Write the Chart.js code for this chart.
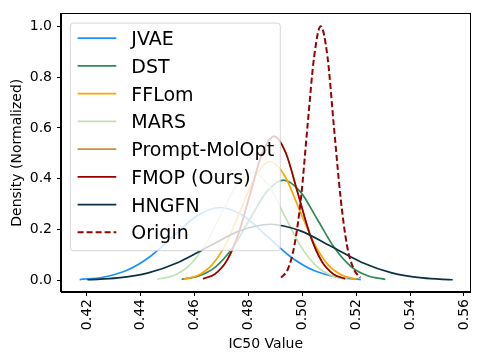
<!DOCTYPE html>
<html><head><meta charset="utf-8">
<script src="https://cdn.jsdelivr.net/npm/chart.js@4"></script>
<style>html,body{margin:0;padding:0;background:#fff;}#wrap{width:484px;height:363px;position:relative;}</style>
</head><body><div id="wrap"><canvas id="c" width="484" height="363"></canvas></div>
<script>
const seriesNames = ["JVAE","DST","FFLom","MARS","Prompt-MolOpt","FMOP (Ours)","HNGFN","Origin"];
const seriesColors = ["#1e90ff","#2e8b57","#ffa500","#c1e1b3","#c8923a","#990000","#0b3142","#990000"];

const jvaeX = [0.4173,0.4260,0.4347,0.4434,0.4521,0.4608,0.4695,0.4782,0.4869,0.4956,0.5043,0.5130,0.5217];
const jvaeY = [0.0032,0.0126,0.0388,0.0932,0.1741,0.2533,0.2870,0.2533,0.1741,0.0932,0.0388,0.0126,0.0032];
const dstX = [0.4552,0.4615,0.4678,0.4741,0.4804,0.4867,0.4930,0.4993,0.5056,0.5119,0.5182,0.5245,0.5308];
const dstY = [0.0044,0.0173,0.0534,0.1283,0.2396,0.3486,0.3950,0.3486,0.2396,0.1283,0.0534,0.0173,0.0044];
const fflomX = [0.4559,0.4613,0.4666,0.4720,0.4773,0.4827,0.4880,0.4934,0.4987,0.5041,0.5094,0.5148,0.5201];
const fflomY = [0.0052,0.0205,0.0633,0.1520,0.2838,0.4130,0.4680,0.4130,0.2838,0.1520,0.0633,0.0205,0.0052];
const marsX = [0.4461,0.4520,0.4579,0.4638,0.4697,0.4756,0.4815,0.4874,0.4933,0.4992,0.5051,0.5110,0.5169];
const marsY = [0.0047,0.0186,0.0574,0.1377,0.2572,0.3742,0.4240,0.3742,0.2572,0.1377,0.0574,0.0186,0.0047];
const promptX = [0.4631,0.4675,0.4719,0.4763,0.4807,0.4851,0.4895,0.4939,0.4983,0.5027,0.5071,0.5115,0.5159];
const promptY = [0.0063,0.0249,0.0767,0.1841,0.3439,0.5004,0.5670,0.5004,0.3439,0.1841,0.0767,0.0249,0.0063];
const fmopX = [0.4631,0.4675,0.4719,0.4763,0.4807,0.4851,0.4895,0.4939,0.4983,0.5027,0.5071,0.5115,0.5159];
const fmopY = [0.0063,0.0249,0.0767,0.1841,0.3439,0.5004,0.5670,0.5004,0.3439,0.1841,0.0767,0.0249,0.0063];
const hngfnX = [0.4202,0.4315,0.4428,0.4541,0.4654,0.4767,0.4880,0.4993,0.5106,0.5219,0.5332,0.5445,0.5558];
const hngfnY = [0.0025,0.0097,0.0299,0.0718,0.1340,0.1950,0.2210,0.1950,0.1340,0.0718,0.0299,0.0097,0.0025];
const originX = [0.4921,0.4946,0.4970,0.4995,0.5019,0.5044,0.5068,0.5093,0.5117,0.5142,0.5166,0.5191,0.5215];
const originY = [0.0111,0.0439,0.1353,0.3247,0.6065,0.8825,1.0000,0.8825,0.6065,0.3247,0.1353,0.0439,0.0111];

const xTicks = [0.42,0.44,0.46,0.48,0.50,0.52,0.54,0.56];
const yTicks = [0.0,0.2,0.4,0.6,0.8,1.0];

const seriesX = [jvaeX,dstX,fflomX,marsX,promptX,fmopX,hngfnX,originX];
const seriesY = [jvaeY,dstY,fflomY,marsY,promptY,fmopY,hngfnY,originY];

const datasets = seriesNames.map((name,i)=>({
  label: name,
  data: seriesX[i].map((x,j)=>({x:x,y:seriesY[i][j]})),
  borderColor: seriesColors[i],
  backgroundColor: seriesColors[i],
  borderWidth: i===7 ? 2 : 1.7,
  borderDash: i===7 ? [6,3] : [],
  showLine: true,
  pointRadius: 0,
  cubicInterpolationMode: 'monotone',
  fill: false,
  order: seriesNames.length - i
}));

const legendAndFrame = {
  id: 'legendAndFrame',
  afterDatasetsDraw(chart){
    const ctx = chart.ctx, a = chart.chartArea;
    ctx.save();
    const bx = a.left + 9.3, by = a.top + 9.7, bw = 210, bh = 227.6;
    ctx.beginPath();
    ctx.roundRect(bx, by, bw, bh, 3);
    ctx.fillStyle = 'rgba(255,255,255,0.8)';
    ctx.fill();
    ctx.strokeStyle = 'rgba(204,204,204,0.8)';
    ctx.lineWidth = 1;
    ctx.stroke();
    chart.data.datasets.forEach((ds,i)=>{
      const y = a.top + 24.7 + i*27.75;
      ctx.beginPath();
      ctx.setLineDash(ds.borderDash || []);
      ctx.strokeStyle = ds.borderColor;
      ctx.lineWidth = ds.borderWidth;
      ctx.moveTo(a.left + 16.6, y);
      ctx.lineTo(a.left + 55.3, y);
      ctx.stroke();
      ctx.setLineDash([]);
      ctx.fillStyle = '#000';
      ctx.font = "19px 'DejaVu Sans'";
      ctx.textAlign = 'left';
      ctx.textBaseline = 'alphabetic';
      ctx.fillText(ds.label, a.left + 70.3, y + 7);
    });
    ctx.restore();
  },
  afterDraw(chart){
    const ctx = chart.ctx, a = chart.chartArea;
    ctx.save();
    ctx.strokeStyle = '#000';
    ctx.lineWidth = 1;
    ctx.strokeRect(Math.round(a.left)-0.5, Math.round(a.top)+0.5, Math.round(a.right-a.left)+1, Math.round(a.bottom-a.top)-1);
    ctx.restore();
  }
};

Chart.defaults.font.family = "'DejaVu Sans'";
Chart.defaults.color = '#000';

new Chart(document.getElementById('c'), {
  type: 'scatter',
  data: { datasets: datasets },
  options: {
    responsive: false,
    devicePixelRatio: 1,
    animation: false,
    layout: { padding: { top: 11, right: 13, left: 0, bottom: 0 } },
    plugins: { legend: { display: false }, tooltip: { enabled: false } },
    scales: {
      x: {
        type: 'linear',
        min: 0.4104, max: 0.5624,
        afterBuildTicks: (s)=>{ s.ticks = xTicks.map(v=>({value:v})); },
        afterFit: (s)=>{ s.height = 71; },
        grid: { display: true, drawOnChartArea: false, drawTicks: true, tickLength: 4, tickColor: '#000', tickWidth: 1 },
        border: { display: true, color: '#000', width: 1 },
        ticks: { autoSkip: false, minRotation: 90, maxRotation: 90, padding: 3, font: { size: 14 }, color: '#000',
                 callback: (v)=>Number(v).toFixed(2) },
        title: { display: true, text: 'IC50 Value', font: { size: 14 }, color: '#000', padding: { top: 0, bottom: 10.5 } }
      },
      y: {
        type: 'linear',
        min: -0.0456, max: 1.0507,
        afterBuildTicks: (s)=>{ s.ticks = yTicks.map(v=>({value:v})); },
        afterFit: (s)=>{ s.width = 61; },
        grid: { display: true, drawOnChartArea: false, drawTicks: true, tickLength: 4, tickColor: '#000', tickWidth: 1 },
        border: { display: true, color: '#000', width: 1 },
        ticks: { autoSkip: false, padding: 5, font: { size: 14 }, color: '#000',
                 callback: (v)=>Number(v).toFixed(1) },
        title: { display: true, text: 'Density (Normalized)', font: { size: 14 }, color: '#000', padding: { top: 9, bottom: 0 } }
      }
    }
  },
  plugins: [legendAndFrame]
});
</script>
</body></html>
